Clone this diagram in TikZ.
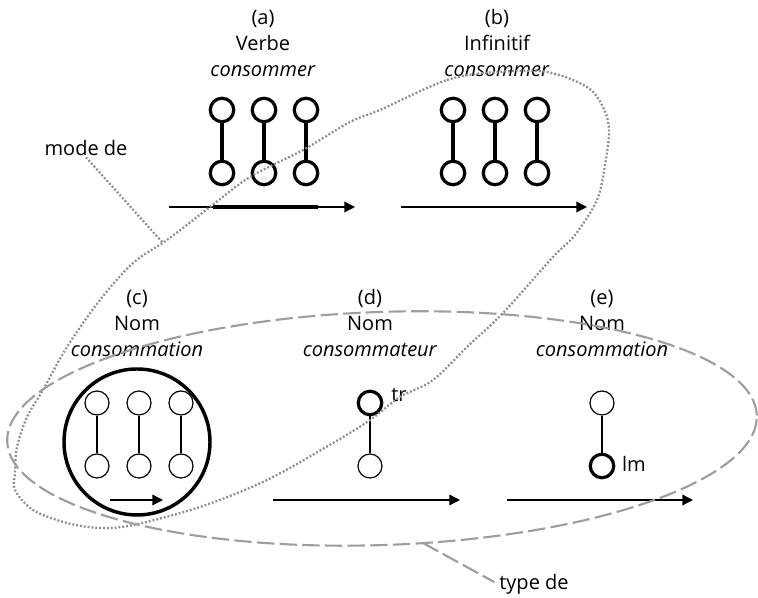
\documentclass[tikz,border=0pt]{standalone}
\usepackage{fontspec}
\setmainfont{Open Sans}
\usetikzlibrary{positioning,arrows.meta}
\definecolor{loopgray}{RGB}{140,140,140}
\definecolor{dashgray}{RGB}{158,158,158}

\begin{document}
\begin{tikzpicture}[
    x=0.75pt, y=0.75pt,
    lbl/.style={align=center, font=\fontsize{15}{19.5}\selectfont},
    txt/.style={font=\fontsize{15}{19.5}\selectfont, inner sep=1pt},
    bigdot/.style={draw, circle, line width=2.4pt, minimum size=17.6pt, inner sep=0pt},
    thindot/.style={draw, circle, line width=0.9pt, minimum size=18pt, inner sep=0pt},
    boldlink/.style={line width=2.4pt},
    thinlink/.style={line width=0.9pt},
    arrow/.style={-{Triangle[length=8pt,width=8pt]}, line width=1pt},
    modeline/.style={draw=loopgray, line width=1.7pt, dash pattern=on 1.4pt off 1.5pt},
    typeline/.style={draw=dashgray, line width=1.6pt, dash pattern=on 13pt off 4pt},
    node distance=47.25pt and 31.5pt, on grid
]
\useasboundingbox (0,0) rectangle (758,598);

% ========== TOP ROW: Verbe / Infinitif ==========
\node[lbl] (verbe) at (263,555) {(a)\\Verbe\\\textit{consommer}};
\node[lbl] (infin) at (497,555) {(b)\\Infinitif\\\textit{consommer}};

% (a) chains
\node[bigdot] (a1t) at (222,488) {};
\node[bigdot, below=of a1t] (a1b) {};
\node[bigdot, right=of a1t] (a2t) {};
\node[bigdot, below=of a2t] (a2b) {};
\node[bigdot, right=of a2t] (a3t) {};
\node[bigdot, below=of a3t] (a3b) {};
\draw[boldlink] (a1t) -- (a1b);
\draw[boldlink] (a2t) -- (a2b);
\draw[boldlink] (a3t) -- (a3b);

% (a) time line
\coordinate (aS) at (169,391);
\coordinate (aE) at (355,391);
\coordinate (aT1) at (213,391);
\coordinate (aT2) at (318,391);
\draw[arrow] (aS) -- (aE);
\draw[line width=3pt] (aT1) -- (aT2);

% (b) chains
\node[bigdot] (b1t) at (453,488) {};
\node[bigdot, below=of b1t] (b1b) {};
\node[bigdot, right=of b1t] (b2t) {};
\node[bigdot, below=of b2t] (b2b) {};
\node[bigdot, right=of b2t] (b3t) {};
\node[bigdot, below=of b3t] (b3b) {};
\draw[boldlink] (b1t) -- (b1b);
\draw[boldlink] (b2t) -- (b2b);
\draw[boldlink] (b3t) -- (b3b);

% (b) time line
\coordinate (bS) at (401,391);
\coordinate (bE) at (587,391);
\draw[arrow] (bS) -- (bE);

% ========== BOTTOM ROW: Nom ==========
\node[lbl] (nomC) at (137,275) {(c)\\Nom\\\textit{consommation}};
\node[lbl] (nomD) at (370,275) {(d)\\Nom\\\textit{consommateur}};
\node[lbl] (nomE) at (602,275) {(e)\\Nom\\\textit{consommation}};

% (c) closed process
\node[draw, circle, line width=2.6pt, minimum size=109.5pt, inner sep=0pt] (bigC) at (137,156) {};
\node[thindot] (c1t) at (97,195) {};
\node[thindot, below=of c1t] (c1b) {};
\node[thindot, right=of c1t] (c2t) {};
\node[thindot, below=of c2t] (c2b) {};
\node[thindot, right=of c2t] (c3t) {};
\node[thindot, below=of c3t] (c3b) {};
\draw[thinlink] (c1t) -- (c1b);
\draw[thinlink] (c2t) -- (c2b);
\draw[thinlink] (c3t) -- (c3b);
\coordinate (cS) at (110,98);
\coordinate (cE) at (163,98);
\draw[arrow] (cS) -- (cE);

% (d) agent
\node[bigdot] (dT) at (370,195) {};
\node[thindot, below=of dT] (dB) {};
\draw[thinlink] (dT) -- (dB);
\node[txt] (trlbl) at (399,203) {tr};
\coordinate (dS) at (273,98);
\coordinate (dE) at (460,98);
\draw[arrow] (dS) -- (dE);

% (e) result
\node[thindot] (eT) at (602,195) {};
\node[bigdot, below=of eT] (eB) {};
\draw[thinlink] (eT) -- (eB);
\node[txt] (lmlbl) at (634,134) {lm};
\coordinate (eS) at (507,98);
\coordinate (eE) at (693,98);
\draw[arrow] (eS) -- (eE);

% ========== GROUPINGS ==========
% mode de (dotted)
\draw[modeline] plot[smooth cycle, tension=0.55] coordinates {
    (380,488) (447,518) (497,526) (547,526) (587,511) (603,491) (609,468)
    (605,433) (597,398) (575,363) (553,341) (503,285) (468,252) (433,218)
    (400,201) (370,178) (333,155) (267,118) (200,91) (133,73) (100,70)
    (67,75) (33,88) (15,108) (15,125) (17,151) (27,181) (43,208) (67,251)
    (100,298) (133,335) (167,358) (210,391) (250,421) (303,448) (350,476)};
\node[txt] (modelbl) at (86,450) {mode de};
\coordinate (modeend) at (163,355);
\draw[modeline] (modelbl.south) -- (modeend);

% type de (dashed)
\draw[typeline] (382,169.5) ellipse [x radius=281.25pt, y radius=87.4pt, rotate=2];
\node[txt] (typelbl) at (534,14) {type de};
\coordinate (typeend) at (423,55);
\draw[typeline, shorten >=3pt] (typeend) -- (typelbl.west);

\end{tikzpicture}
\end{document}
